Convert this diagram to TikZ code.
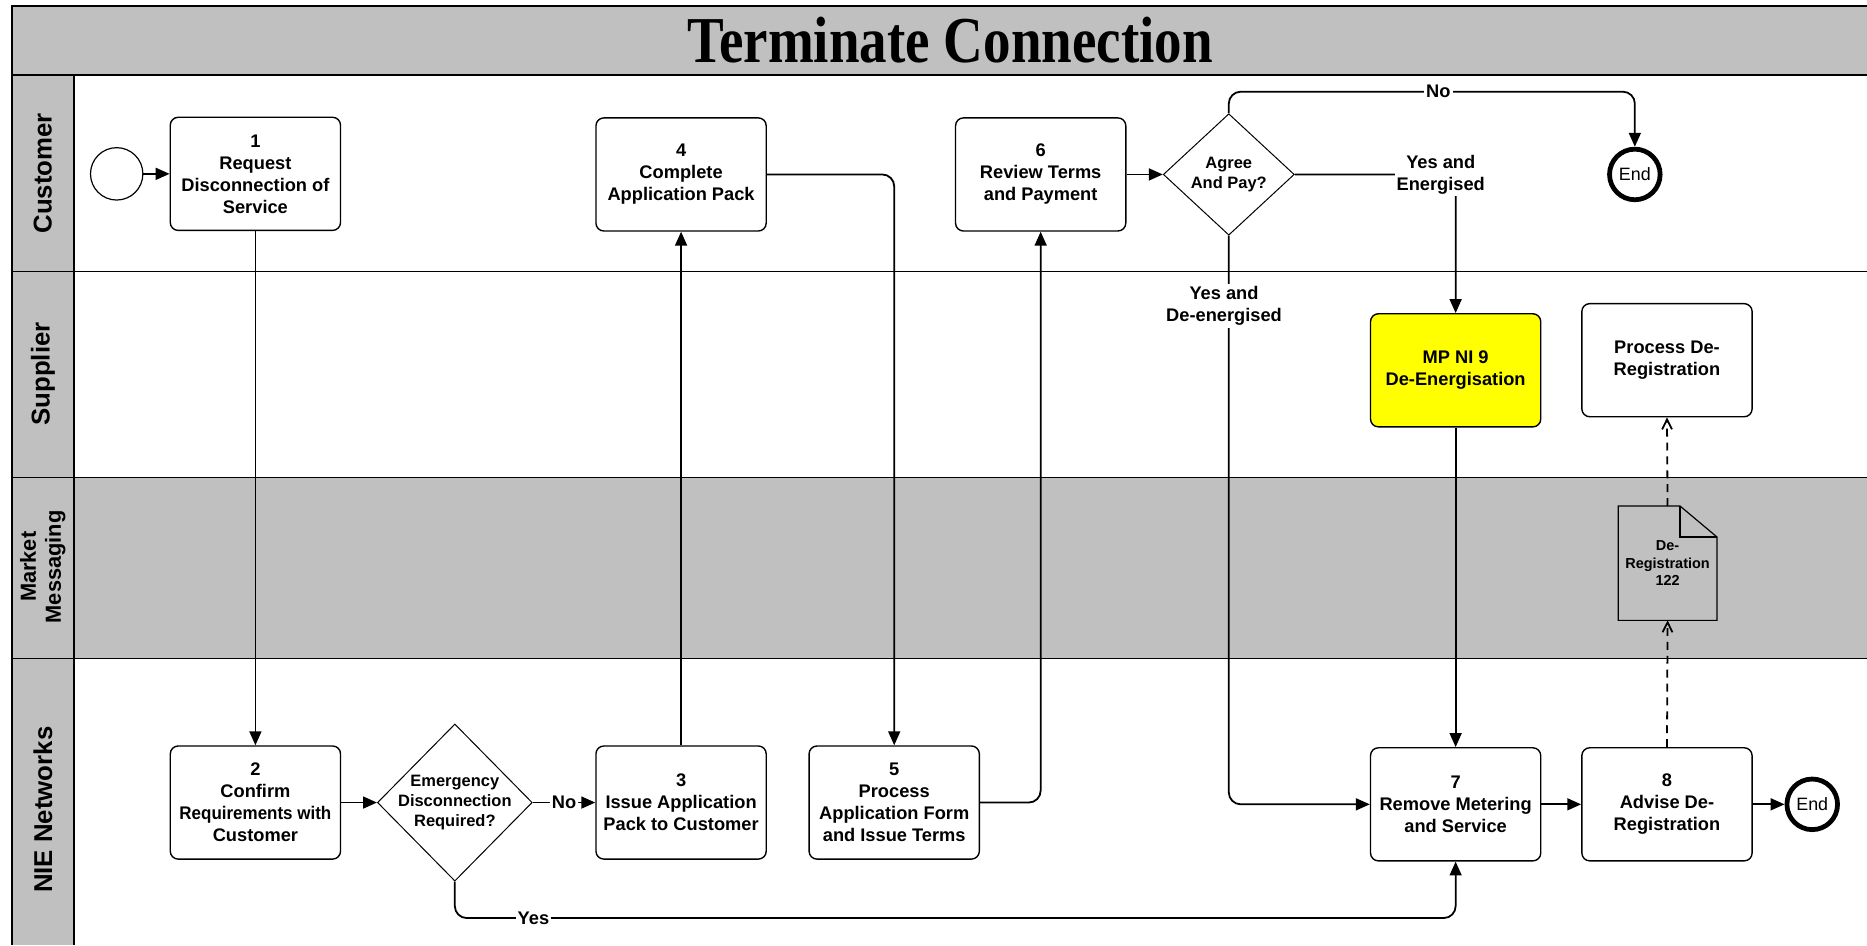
\documentclass[tikz,border=0pt]{standalone}
\usepackage{fontspec}
\usepackage{graphicx}
\setmainfont{Liberation Sans}
\newfontfamily\ttlfont{Liberation Serif}
\usetikzlibrary{shapes.geometric,arrows.meta,calc}
\definecolor{lanegray}{RGB}{192,192,192}
\definecolor{mpyellow}{RGB}{255,255,0}
\newcommand\bxfont{\bfseries\fontsize{9.2}{11.1}\selectfont}
\newcommand\dmfont{\bfseries\fontsize{8.3}{10}\selectfont}
\newcommand\dcfont{\bfseries\fontsize{7.3}{8.7}\selectfont}
\newcommand\lnfont{\bfseries\fontsize{13}{15}\selectfont}
\newcommand\mmfont{\bfseries\fontsize{11}{12.6}\selectfont}
\newcommand\evfont{\mdseries\fontsize{9}{10}\selectfont}
\begin{document}
\begin{tikzpicture}[x=0.6pt,y=-0.6pt,
  lane/.style={line width=0.9pt},
  box/.style={draw,line width=0.7pt,rounded corners=4pt,minimum width=85.8pt,minimum height=57pt,align=center,font=\bxfont,inner sep=1pt,fill=white},
  dia/.style={draw,diamond,line width=0.5pt,inner sep=-12pt,align=center,font=\dmfont,fill=white},
  startev/.style={circle,draw,line width=0.6pt,minimum size=26.4pt,inner sep=0pt,fill=white},
  endev/.style={circle,draw,line width=2.4pt,minimum size=25.5pt,inner sep=0pt,font=\evfont,fill=white},
  flow/.style={line width=0.9pt,rounded corners=6pt,-{Triangle[length=7pt,width=6pt]}},
  msg/.style={line width=0.9pt,dash pattern=on 4pt off 3pt,-{Straight Barb[length=5pt,width=5pt]}},
  lbl/.style={fill=white,inner sep=1pt,font=\bxfont,align=center},
  lanelbl/.style={rotate=90,font=\lnfont,align=center}
]
\useasboundingbox (0,0) rectangle (1568,794);
% backgrounds
\fill[lanegray] (10,5) rectangle (1568,63);
\fill[lanegray] (10,63) rectangle (62,794);
\fill[lanegray] (62,401) rectangle (1568,553);
% lane lines
\draw[lane] (1568,5) -- (10,5) -- (10,794);
\draw[lane] (10,63) -- (1568,63);
\draw[lane] (10,228) -- (1568,228);
\draw[lane] (10,401) -- (1568,401);
\draw[lane] (10,553) -- (1568,553);
\draw[lane] (62,63) -- (62,794);
% title and lane labels
\node[font=\ttlfont\bfseries\fontsize{33}{38}\selectfont] (title) at (798,34) {\scalebox{0.84}[1]{Terminate Connection}};
\node[lanelbl] (lcust) at (36,145.5) {Customer};
\node[lanelbl] (lsupp) at (36,314) {Supplier};
\node[lanelbl,font=\mmfont] (lmkt) at (36,476) {Market\\Messaging};
\node[lanelbl] (lnie) at (36,680) {NIE Networks};
% nodes
\node[startev] (start) at (98,146) {};
\node[box] (b1) at (214.5,146) {1\\Request\\Disconnection of\\Service};
\node[box] (b4) at (572,146.5) {4\\Complete\\Application Pack};
\node[box] (b6) at (874,146.5) {6\\Review Terms\\and Payment};
\node[dia,minimum width=66pt,minimum height=61.2pt] (agree) at (1032,146.5) {Agree\\And Pay?};
\node[endev] (end1) at (1373,146.5) {End};
\node[box,fill=mpyellow] (mp) at (1222.5,311) {MP NI 9\\De-Energisation};
\node[box] (pdr) at (1400,302.5) {Process De-\\Registration};
\node[draw=none,outer sep=0pt,minimum width=49.8pt,minimum height=57.6pt,inner sep=0pt,align=center,font=\dcfont] (doc) at (1400.5,473) {De-\\Registration\\122};
\node[box] (b2) at (214.5,674) {2\\Confirm\\\scalebox{0.93}[1]{Requirements with}\\Customer};
\node[dia,minimum width=78pt,minimum height=79.2pt] (emg) at (382,674) {Emergency\\Disconnection\\Required?};
\node[box] (b3) at (572,674) {3\\Issue Application\\Pack to Customer};
\node[box] (b5) at (751,674) {5\\Process\\Application Form\\and Issue Terms};
\node[box] (b7) at (1222.5,675.5) {7\\Remove Metering\\and Service};
\node[box] (b8) at (1400,675.5) {8\\Advise De-\\Registration};
\node[endev] (end2) at (1522,675.5) {End};
% document shape
\draw[line width=0.6pt] (doc.north west) -- ([xshift=-18.6pt]doc.north east) -- ([yshift=-15.6pt]doc.north east) -- (doc.south east) -- (doc.south west) -- cycle;
\draw[line width=0.6pt] ([xshift=-18.6pt]doc.north east) |- ([yshift=-15.6pt]doc.north east);
% coordinates for routed connectors
\coordinate (noc) at (1208,77);
\coordinate (yesc) at (448,771);
% connectors
\draw[flow] (start) -- (b1);
\draw[flow] (b1) -- (b2);
\draw[flow] (b2) -- (emg);
\draw[flow] (emg) -- (b3) node[lbl,midway] {No};
\draw[flow] (emg.south) |- (yesc) -| (b7.south);
\node[lbl] at (yesc) {Yes};
\draw[flow] (b3) -- (b4);
\draw[flow] (b4.east) -| (b5.north);
\draw[flow] (b5.east) -| (b6.south);
\draw[flow] (b6) -- (agree);
\draw[flow] (agree.north) |- (noc) -| (end1.north);
\node[lbl] at (noc) {No};
\draw[flow] (agree.east) -| (mp.north);
\node[lbl] at (1210,146.5) {Yes and\\Energised};
\draw[flow] (agree.south) |- (b7.west);
\node[lbl] at (1028,257) {Yes and\\De-energised};
\draw[flow] (mp) -- (b7);
\draw[flow] (b7) -- (b8);
\draw[flow] (b8) -- (end2);
\draw[msg] (b8.north) -- (doc.south);
\draw[msg] (doc.north) -- (pdr.south);
\end{tikzpicture}
\end{document}
